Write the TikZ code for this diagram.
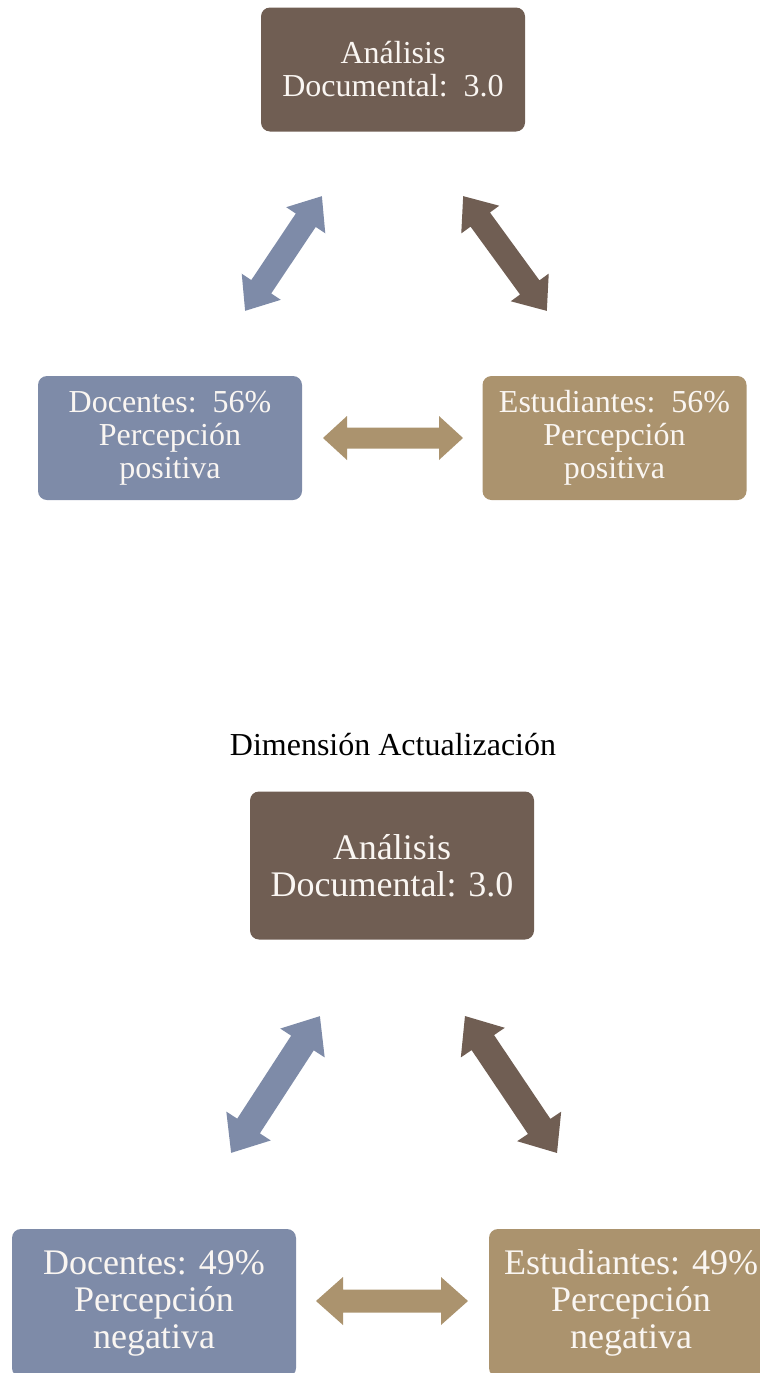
\documentclass[tikz,border=0pt]{standalone}
\usepackage{fontspec}
\setmainfont{Liberation Serif}
\definecolor{boxbrown}{HTML}{705E53}
\definecolor{boxblue}{HTML}{7E8BA8}
\definecolor{boxtan}{HTML}{AB936E}
\definecolor{boxtext}{HTML}{FAF6F2}
\tikzset{
  card/.style={fill=#1, draw=none, rounded corners=9pt, text=boxtext,
    align=center, inner sep=0pt},
  smallcard/.style={card=#1, minimum width=264pt, minimum height=124pt,
    font=\fontsize{32}{33}\selectfont},
  bigcard/.style={card=#1, minimum width=284pt, minimum height=148pt,
    font=\fontsize{36}{37}\selectfont},
}
% double-headed block arrow: centre, angle, length, head width, shaft width, head length, colour
\newcommand\blockarrow[7]{%
  \fill[#7, shift={#1}, rotate=#2]
    (-#3/2,0) -- (-#3/2+#6,#4/2) -- (-#3/2+#6,#5/2) -- (#3/2-#6,#5/2)
    -- (#3/2-#6,#4/2) -- (#3/2,0) -- (#3/2-#6,-#4/2) -- (#3/2-#6,-#5/2)
    -- (-#3/2+#6,-#5/2) -- (-#3/2+#6,-#4/2) -- cycle;}
\begin{document}
\begin{tikzpicture}[x=1pt,y=-1pt]
\useasboundingbox (0,0) rectangle (760,1373);
\clip (0,0) rectangle (760,1373);

% first cycle
\node[smallcard=boxbrown] (doc1) at (393,69.5) {Análisis\\Documental:\ \ 3.0};
\node[smallcard=boxblue] (teach1) at (170,438) {Docentes:\ \ 56\%\\Percepción\\positiva};
\node[smallcard=boxtan] (stud1) at (614.5,438) {Estudiantes:\ \ 56\%\\Percepción\\positiva};
\blockarrow{(283.5,253.5)}{56.2}{138}{47}{24}{29}{boxblue}
\blockarrow{(505,253.5)}{-53.9}{142}{47}{24}{29}{boxbrown}
\blockarrow{(393,438)}{0}{140}{44}{21}{24}{boxtan}

% second cycle
\node[font=\fontsize{32}{34}\selectfont, text=black] (title) at (393,745) {Dimensión Actualización};
\node[bigcard=boxbrown] (doc2) at (392,865.5) {Análisis\\Documental: 3.0};
\node[bigcard=boxblue] (teach2) at (154,1303) {Docentes: 49\%\\Percepción\\negativa};
\node[bigcard=boxtan] (stud2) at (631,1303) {Estudiantes: 49\%\\Percepción\\negativa};
\blockarrow{(275.5,1084.5)}{57}{163}{53}{27}{32}{boxblue}
\blockarrow{(511,1084.5)}{-56.1}{165}{53}{27}{32}{boxbrown}
\blockarrow{(392,1301)}{0}{152}{48}{23}{27}{boxtan}
\end{tikzpicture}
\end{document}
